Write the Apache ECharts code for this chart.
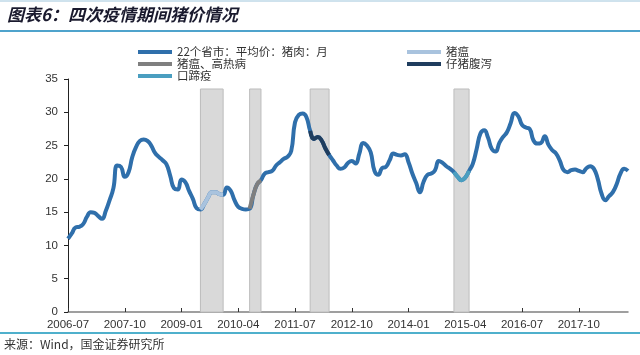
<!DOCTYPE html>
<html>
<head>
<meta charset="utf-8">
<script src="https://cdn.jsdelivr.net/npm/echarts@6/dist/echarts.min.js"></script>
<style>
  html, body { margin: 0; padding: 0; background: #fff; }
  #chartDiv { width: 640px; height: 355px; }
</style>
</head>
<body>
<div id="chartDiv"></div>
<script>
// monthly, 2006-07 .. 2018-11
var startYear = 2006, startMonth = 7;
var porkPrice = [
  11.0, 11.8, 12.7, 12.8, 13.2, 14.3, 15.0, 14.9, 14.4, 14.0, 15.2, 16.8,
  18.6, 22.0, 21.8, 20.3, 21.0, 23.3, 24.8, 25.7, 25.9, 25.7, 25.0, 23.9,
  23.3, 22.8, 22.2, 20.5, 18.6, 18.4, 19.9, 19.5, 18.2, 17.0, 15.6, 15.4,
  16.2, 17.2, 18.0, 18.0, 17.7, 17.6, 18.7, 18.2, 16.8, 15.8, 15.5, 15.4,
  15.5, 17.6, 19.2, 19.8, 20.8, 21.0, 21.2, 22.0, 22.5, 23.0, 23.3, 24.2,
  28.5, 29.6, 29.8, 29.3, 27.2, 26.0, 26.3, 25.8, 24.6, 23.6, 22.8, 22.0,
  21.5, 21.7, 22.4, 22.7, 22.3, 23.8, 25.4, 25.0, 24.0, 21.2, 20.6, 21.6,
  21.8, 22.8, 23.8, 23.6, 23.5, 23.7, 22.5, 20.8, 19.4, 18.0, 19.6, 20.6,
  20.8, 21.3, 22.7, 22.4, 21.9, 21.5, 21.0, 20.3, 19.8, 20.2, 21.2, 22.3,
  24.5, 26.8, 27.3, 26.2, 24.5, 24.1, 25.4, 26.3, 27.0, 28.4, 29.9, 29.4,
  28.1, 27.7, 27.5, 25.8, 25.3, 25.4, 26.4, 25.1, 24.3, 23.8, 22.7, 21.3,
  21.0, 21.3, 21.4, 21.2, 21.0, 21.6, 21.9, 21.5, 20.0, 17.8, 16.8, 17.4,
  18.0, 19.2, 20.8, 21.5, 21.2
];

var mainName = "22个省市：平均价：猪肉：月";
var epidemicNames = ["猪瘟", "猪瘟、高热病", "仔猪腹泻", "口蹄疫"];
var epidemicStart = ["2009-06", "2010-07", "2011-11", "2015-01"];
var epidemicEnd = ["2009-12", "2010-10", "2012-04", "2015-05"];
var epidemicColors = ["#a9c3de", "#7f7f7f", "#1f3d5e", "#4a9ec0"];
var barTop = 33.5;

var months = [];
for (var i = 0; i < porkPrice.length; i++) {
  var t = (startMonth - 1) + i;
  var y = startYear + Math.floor(t / 12);
  var m = (t % 12) + 1;
  months.push(y + "-" + (m < 10 ? "0" + m : m));
}

var myChart = echarts.init(document.getElementById("chartDiv"));

var areas = [];
var series = [{
  name: mainName,
  type: "line",
  data: porkPrice,
  smooth: true,
  showSymbol: false,
  lineStyle: { width: 4, color: "#2f6fab" },
  itemStyle: { color: "#2f6fab" },
  z: 3,
  markArea: {
    silent: true,
    itemStyle: { color: "#d9d9d9", borderColor: "#bdbdbd", borderWidth: 1 },
    data: areas
  }
}];

for (var k = 0; k < epidemicNames.length; k++) {
  var s = months.indexOf(epidemicStart[k]);
  var e = months.indexOf(epidemicEnd[k]);
  areas.push([{ xAxis: epidemicStart[k], yAxis: 0 }, { xAxis: epidemicEnd[k], yAxis: barTop }]);
  var seg = [];
  for (var j = 0; j < porkPrice.length; j++) {
    seg.push(j >= s && j <= e ? porkPrice[j] : null);
  }
  series.push({
    name: epidemicNames[k],
    type: "line",
    data: seg,
    smooth: true,
    showSymbol: false,
    lineStyle: { width: 4, color: epidemicColors[k] },
    itemStyle: { color: epidemicColors[k] },
    z: 4
  });
}

var legendBase = {
  orient: "vertical",
  icon: "rect",
  itemWidth: 34,
  itemHeight: 4,
  itemGap: 0,
  textStyle: { fontSize: 11.5, color: "#333", lineHeight: 12, fontFamily: "Noto Sans CJK SC" }
};

var option = {
  animation: false,
  textStyle: { fontFamily: "Liberation Sans, Arial, sans-serif" },
  legend: [
    Object.assign({}, legendBase, { left: 133, top: 41, data: [mainName, epidemicNames[1], epidemicNames[3]] }),
    Object.assign({}, legendBase, { left: 402, top: 41, data: [epidemicNames[0], epidemicNames[2]] })
  ],
  grid: { left: 68, right: 12, top: 79, bottom: 43 },
  xAxis: {
    type: "category",
    data: months,
    boundaryGap: false,
    axisLine: { lineStyle: { color: "#808080", width: 1.5 } },
    axisTick: { inside: true, length: 4, interval: 14, lineStyle: { color: "#333" } },
    axisLabel: { interval: 14, color: "#333", fontSize: 11.5, margin: 7 }
  },
  yAxis: {
    type: "value",
    min: 0,
    max: 35,
    interval: 5,
    splitLine: { show: false },
    axisLine: { show: true, lineStyle: { color: "#222" } },
    axisTick: { show: true, length: 4, lineStyle: { color: "#222" } },
    axisLabel: { color: "#333", fontSize: 11.5, margin: 10 }
  },
  graphic: [
    { type: "line", shape: { x1: 0, y1: 1, x2: 640, y2: 1 }, style: { stroke: "#9fc6dc", lineWidth: 1 } },
    { type: "text", left: 7, top: 6, style: { text: "图表6：四次疫情期间猪价情况", font: "italic bold 17px 'Noto Sans CJK SC'", fill: "#1a1a2e" } },
    { type: "line", shape: { x1: 0, y1: 31, x2: 640, y2: 31 }, style: { stroke: "#4fa3cc", lineWidth: 2 } },
    { type: "line", shape: { x1: 0, y1: 333, x2: 640, y2: 333 }, style: { stroke: "#4fb0cc", lineWidth: 2 } },
    { type: "text", left: 4, top: 338, style: { text: "来源：Wind，国金证券研究所", font: "12px 'Noto Sans CJK SC'", fill: "#333" } }
  ],
  series: series
};

myChart.setOption(option);

window.addEventListener("resize", function () {
  myChart.resize();
});
</script>
</body>
</html>
